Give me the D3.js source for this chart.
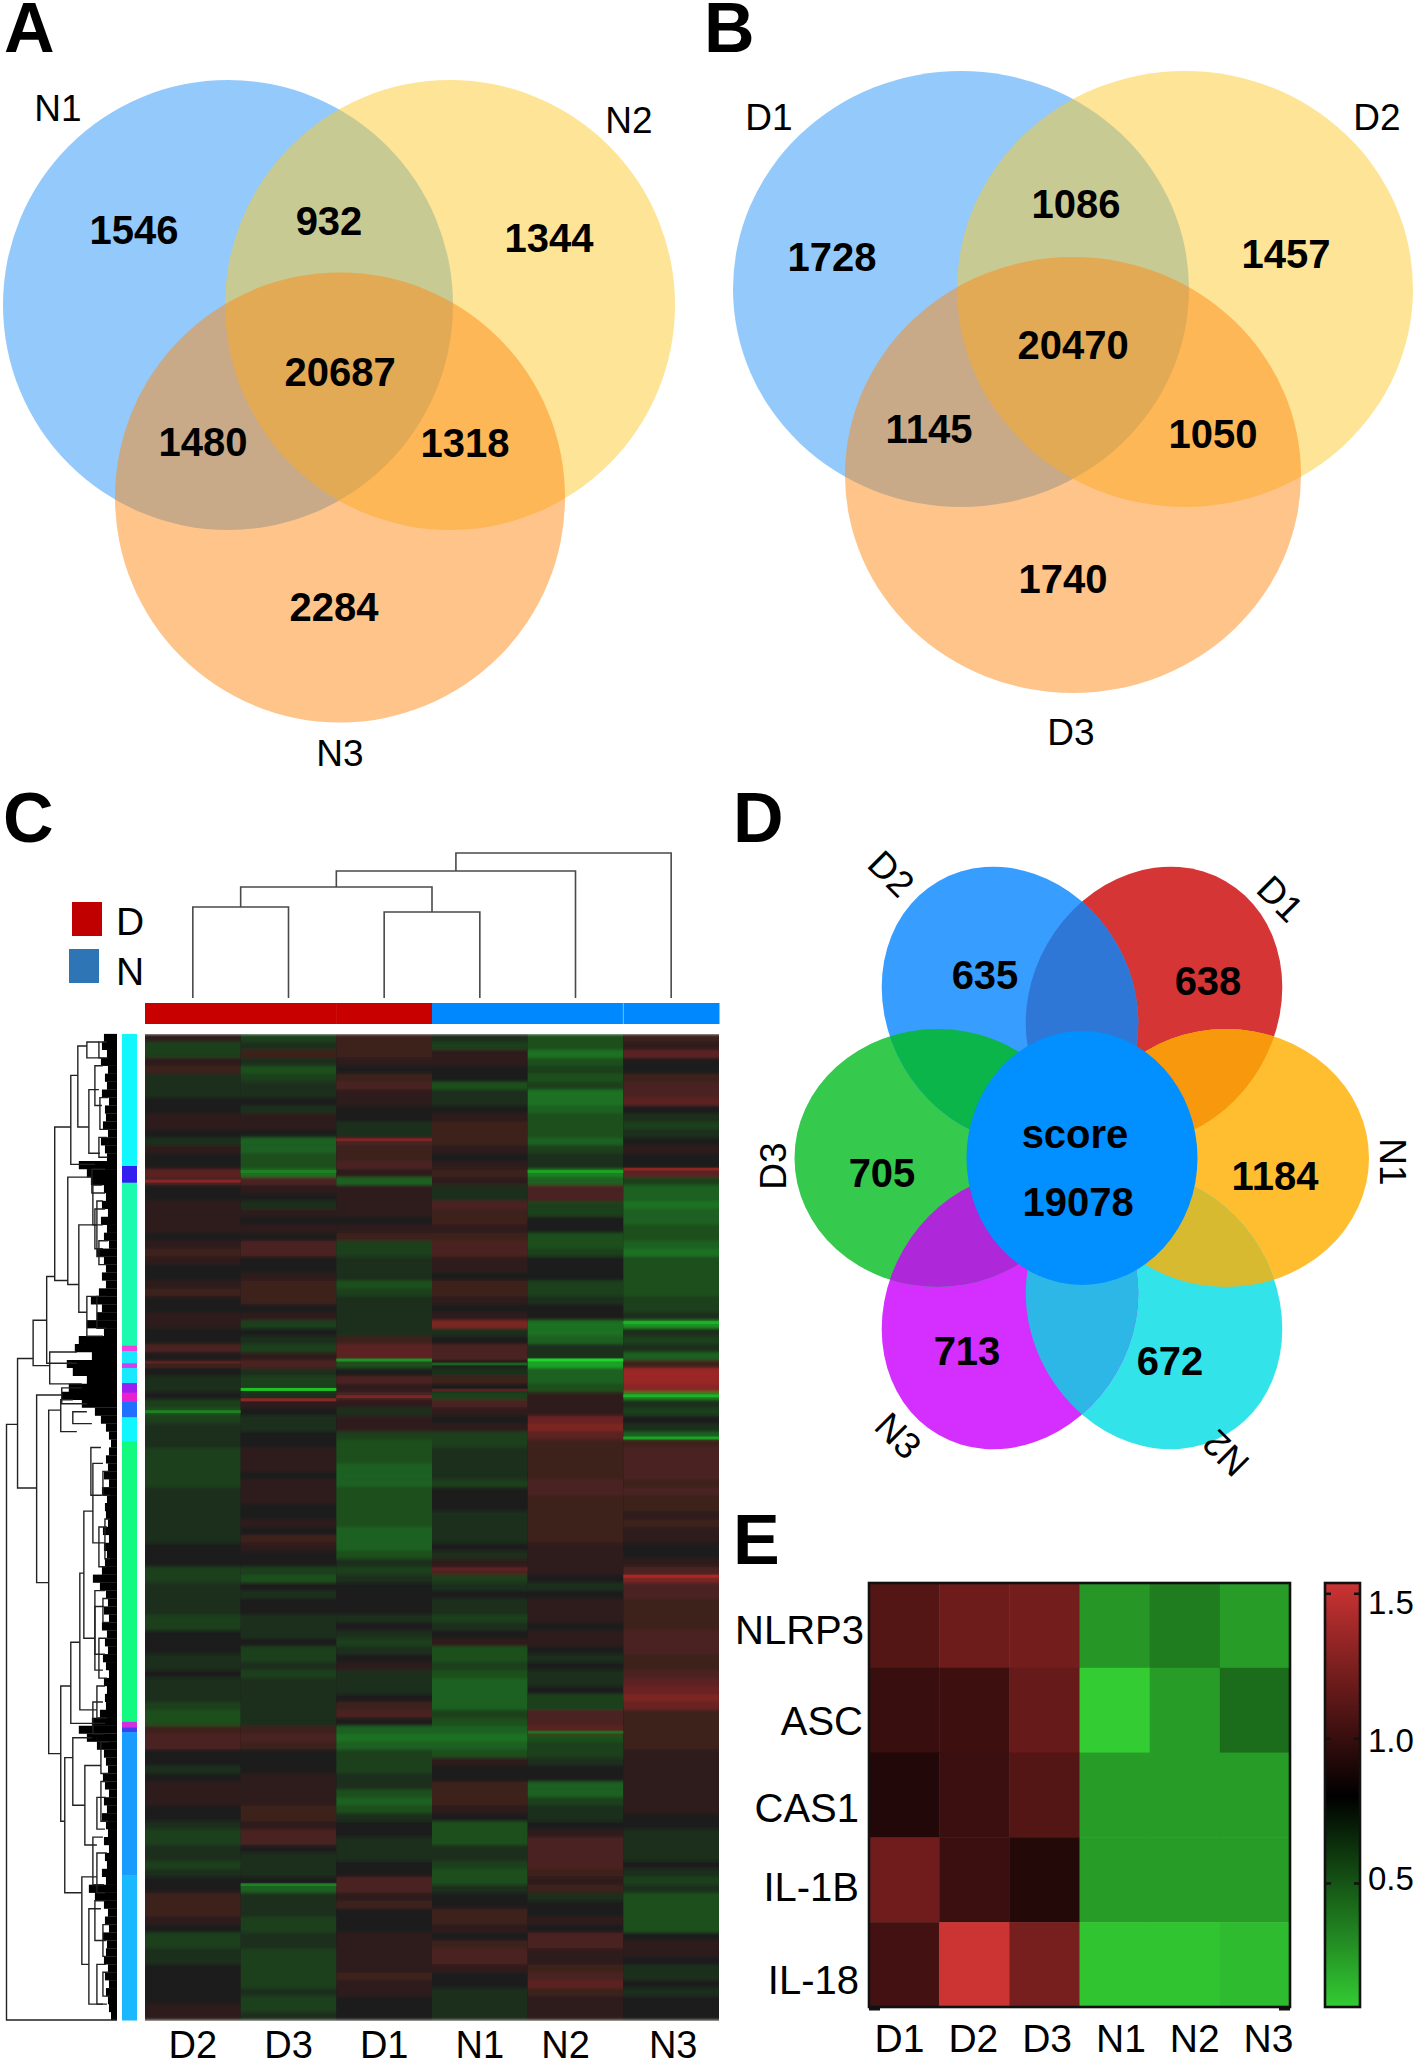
<!DOCTYPE html>
<html><head><meta charset="utf-8">
<script src="https://cdn.jsdelivr.net/npm/d3@7/dist/d3.min.js"></script>
<style>html,body{margin:0;padding:0;background:#fff}svg{display:block}text{font-family:"Liberation Sans",Arial,sans-serif;fill:#000}</style>
</head><body><div id="c"></div>
<script>
// ---------- Panels A, B, D: counts ----------
const vennANames = ["N1","N2","N3"];
const vennACounts = [1546,932,1344,20687,1480,1318,2284];
const vennBNames = ["D1","D2","D3"];
const vennBCounts = [1728,1086,1457,20470,1145,1050,1740];
const flowerNames = ["D1","N1","N2","N3","D3","D2"];
const flowerCounts = [638,1184,672,713,705,635];
const flowerCore = ["score",19078];

// ---------- Panel C: heat map values (rows x samples) ----------
const heatSamples = ["D2","D3","D1","N1","N2","N3"];
const heatGroups = ["D","D","D","N","N","N"];
const heatD2 = [1,-2,-2,1,2,-1,-1,-1,0,0, 1,1,0,-1,1,0,0,4,3,0, 0,1,1,1,1,0,1,2,1,0, 0,1,2,0,0,1,1,0,0,3, 0,2,0,-1,-1,0,-2,-3,-2,-1, -1,-1,-2,-2,-2,-2,-2,-1,-1,-1, -1,-1,-1,-1,0,0,0,-2,-2,-1, -1,-1,-1,-2,-2,0,0,0,-1,-1, 0,-1,-1,-1,-2,-3,-3,2,3,3, 0,0,-1,0,1,1,1,0,0,-1, -2,-2,-1,-1,-2,-1,0,0,2,2, 2,1,0,-2,-2,-1,-1,0,0,0, 0,0,1,1];
const heatD3 = [-2,-1,2,-1,-3,-2,-1,-1,0,-1, 1,1,0,-4,-4,-3,-3,-5,3,1, 0,-1,1,0,1,0,3,3,0,0, 1,2,2,2,0,1,-2,0,-1,-2, 1,3,-1,-2,-2,-1,1,0,-1,-1, 0,0,1,1,1,0,1,1,1,0, 0,1,0,2,1,0,0,-2,-3,0, -1,0,0,-1,-1,-1,0,-2,-2,-1, -2,-1,-1,-1,-1,-1,-1,2,3,2, 0,0,0,1,1,1,1,2,2,1, 3,3,0,-1,-1,-1,0,-4,-1,-1, -1,-2,-2,-1,-1,-2,-2,-2,-2,-2, -1,-2,-2,-1];
const heatD1 = [2,2,2,1,0,2,3,1,1,0, 0,-1,-1,3,2,2,3,1,-4,1, 1,1,1,0,1,2,-2,-2,-1,-1, -1,-3,-2,-1,-1,-1,-1,-1,2,4, 4,-3,0,3,1,3,1,-1,1,1, -2,-3,-3,-3,-4,-4,-4,-3,-3,-3, -3,-3,-4,-4,-4,-3,-1,-2,-1,0, 0,0,0,-1,0,-1,-2,-1,0,1, -1,-1,-1,0,2,3,0,-4,-5,-4, -2,-2,-2,-1,-1,-3,-4,-3,-1,0, 0,-1,-1,-1,0,0,3,3,1,2, 0,0,0,1,1,1,1,1,2,1, 1,0,0,0];
const heatN1 = [-1,-2,1,1,0,0,-3,-1,-1,0, 1,2,2,2,1,0,1,2,1,-1, -1,3,2,2,1,2,3,3,1,1, 0,2,2,1,0,1,6,-1,0,3, 3,0,-1,2,0,-2,3,1,0,1, -2,-2,-1,-1,-1,-1,-2,0,0,0, -1,-1,-1,-1,0,-1,1,3,-2,-1, 0,-1,-1,-2,-1,0,1,-3,-3,-2, -3,-4,-4,-4,-4,-2,-3,-4,-5,-4, -3,1,0,0,2,2,2,1,0,-3, -3,-3,-1,-1,-2,-3,-3,-1,0,0, 2,2,1,0,2,3,3,1,0,0, -1,-1,-1,-1];
const heatN2 = [-3,-3,-5,-3,-2,-3,-2,-5,-5,-4, -3,-3,-3,-4,-2,-1,-1,-6,-4,3, 3,-2,-2,0,0,-3,-3,-2,0,0, 0,-2,-2,-1,0,0,-5,-5,-4,-1, -1,-8,-4,-4,-3,1,1,1,5,6, 4,2,2,2,2,2,3,3,2,2, 2,2,2,2,1,1,1,1,0,-1, 0,1,1,1,0,1,1,0,-1,0, -1,-1,0,-2,-2,3,3,4,-3,-2, -2,-1,0,0,-4,-4,-2,-1,-1,0, 1,3,3,3,3,2,1,2,-1,0, 0,1,0,3,3,1,1,2,3,4, 2,1,1,1];
const heatN3 = [2,1,4,0,0,2,3,3,4,0, -1,-2,-1,0,1,0,0,4,-2,-4, -4,-5,-4,-4,-3,-3,-4,-5,-3,-3, -3,-3,-3,-2,-2,-1,-7,-1,-2,-1, -4,2,8,8,7,-6,-1,-2,0,-1, -4,2,3,3,3,3,2,3,2,2, 1,2,1,1,0,0,1,3,6,3, 3,2,2,2,2,3,3,3,2,2, 3,4,5,6,5,2,2,2,2,2, 1,1,1,1,1,1,1,1,0,0, -1,-1,-1,-1,0,-1,-2,-1,-3,-3, -3,-3,-3,0,1,1,0,-1,-1,0, -1,0,0,0];
const heatColumns = [heatD2,heatD3,heatD1,heatN1,heatN2,heatN3];
// thin stripes: sample index, row position, value
const heatStripes = [[0,18.5,7],[0,41.3,4],[0,47.5,-6],[1,17.3,-6],[1,44.7,-10],[1,46,7],[1,107,-6],[2,13.3,6],[2,41,-7],[2,45.6,6],[3,41.5,-4],[3,44.8,4],[3,67.3,4],[4,17.3,-8],[4,41,-11],[4,87.8,-5],[5,17,7],[5,36.3,-9],[5,45.5,-9],[5,50.8,-8],[5,68.2,9]];
// sample tree: merge heights
const sampleTree = {h:145,children:[{h:127,children:[{h:111,children:[{h:91,children:[{name:"D2"},{name:"D3"}]},{h:86,children:[{name:"D1"},{name:"N1"}]}]},{name:"N2"}]},{name:"N3"}]};
const sampleLabelNudge = [0,0,0,0,-10,2];
// module colour strip: end row and colour
const moduleEnds = [16.6,18.7,39.2,39.9,41.4,42,43.9,45.1,46.2,48.2,51.2,86.5,87.2,87.8,105.8,124];
const moduleColors = ["#12f7fe","#3320f0","#1bfbb0","#f43fe0","#19e9ff","#d040f0","#19e9ff","#9a1ff0","#e820d0","#2070ff","#12f7ff","#12fb80","#d030e0","#4040f0","#1a9cff","#1ab8ff"];
// gene tree brackets: height, first child row, its height, second child row, its height
const geneBrackets = [[110,49.1,99,124,0],[99,40.8,83.5,57.1,80],[83.5,36,70,41.7,67],[70,30.5,62,41.4,40],[62,11.7,46,31,49],[46,5.2,39,16.4,22],[39,1.5,30,11.7,28],[30,1,18,3,16],[28,7,18,15,17],[49,18,25,31.5,38],[38,24,20,35,30],[25,17,12,20,12],[20,21,14,28,12],[30,33,18,38,14],[67,40,40,44,35],[80,45.4,55,69,68],[55,44.5,35,46.5,30],[68,47.3,56,90.5,56],[56,46,44,50,40],[44,47.5,30,49,25],[56,82,46,99,52],[46,76.5,37,86.7,12],[37,67.8,33,85,20],[33,60,24,76,22],[24,54,14,64,12],[22,70,12,80,14],[20,82,12,86,10],[52,91,44,108,35],[44,88.5,25,97,32],[32,92,16,102,20],[35,106,20,117,28],[28,110,16,122,14],[20,103,10,108,12],[16,89,8,93,8],[18,1,10,3,9],[17,8,9,12,8],[14,55,8,58,7],[12,61,7,66,7],[14,71,7,74,6],[16,94,8,99,9],[14,112,7,116,8],[14,118,8,121,7],[22,4,14,9,15],[18,13,10,15.5,9],[22,22,12,27,14],[18,26,9,29,10],[24,19,15,24,14],[20,33,10,37,11],[26,52,16,58,15],[18,62,10,67,11],[22,72,13,78,12],[18,76,9,81,10],[24,84,14,88,13],[20,96,11,100,12],[24,101,14,107,13],[22,109,12,114,11],[20,117,11,122,10]];
const geneLeafReach = [13,15,10,16,9,12,10,15,8,12, 11,14,9,16,12,10,38,30,26,13, 11,15,9,16,10,13,8,20,13,11, 15,11,18,26,15,20,30,13,38,42, 25,50,44,30,48,55,35,22,16,11, 8,6,8,11,9,13,8,15,10,12, 11,9,14,8,13,10,12,15,24,17, 11,9,13,8,15,10,12,9,14,11, 8,13,10,12,11,17,25,38,30,20, 13,11,9,14,12,8,13,10,15,11, 9,13,8,12,10,15,11,28,22,13, 9,12,8,14,10,11,13,9,12,8, 11,9,8,6];
const legendNames = ["D","N"];

// ---------- Panel E ----------
const geneNames = ["NLRP3","ASC","CAS1","IL-1B","IL-18"];
const geneNameNudge = [-3,3,5,-1,7];
const geneNameShift = [0,-1,-5,-5,-5];
const geneSamples = ["D1","D2","D3","N1","N2","N3"];
const rowNLRP3 = [1.09,1.18,1.20,0.26,0.35,0.235];
const rowASC = [0.99,1.01,1.155,0.07,0.235,0.405];
const rowCAS1 = [0.91,1.00,1.09,0.235,0.235,0.235];
const rowIL1B = [1.19,1.00,0.92,0.235,0.235,0.235];
const rowIL18 = [1.03,1.52,1.215,0.10,0.10,0.13];
const geneRows = [rowNLRP3,rowASC,rowCAS1,rowIL1B,rowIL18];
const barTicks = [0.5,1.0,1.5];

for (const c of heatColumns) if (c.length!==124) throw new Error("bad column "+c.length);
if (geneLeafReach.length!==124) throw new Error("bad reach");

const svg = d3.select("#c").append("svg").attr("width",1416).attr("height",2064);
const defs = svg.append("defs");

function txt(g,x,y,s,size,bold,rot,anchor){
  const t=g.append("text").text(s).attr("font-size",size).attr("font-weight",bold?700:400)
    .attr("text-anchor",anchor||"middle").attr("dominant-baseline","central");
  t.attr("transform",`translate(${x},${y})`+(rot?` rotate(${rot})`:""));
  return t;
}
// panel letters
[["A",4,52],["B",704,52],["C",3,842],["D",733,842],["E",733,1564]].forEach(d=>{
  svg.append("text").text(d[0]).attr("x",d[1]).attr("y",d[2]).attr("font-size",70).attr("font-weight",700);
});

// ---------- Venns ----------
const vennColors=["#2896f7","#fdc92d","#fd8915"];
function venn(names,counts,circles,numPos,labPos){
  const g=svg.append("g");
  g.selectAll("ellipse").data(names).join("ellipse")
    .attr("cx",(d,i)=>circles[i][0]).attr("cy",(d,i)=>circles[i][1])
    .attr("rx",(d,i)=>circles[i][2]).attr("ry",(d,i)=>circles[i][3])
    .attr("fill",(d,i)=>vennColors[i]).attr("fill-opacity",.5);
  counts.forEach((c,i)=>txt(g,numPos[i][0],numPos[i][1],c,40,true));
  names.forEach((n,i)=>txt(g,labPos[i][0],labPos[i][1],n,37,false));
}
venn(vennANames,vennACounts,[[228,305,225,225],[450,305,225,225],[340,497.5,225,225]],
 [[134,230],[329,221],[549,238],[340,372],[203,442],[465,443],[334,607]],[[58,108],[629,120],[340,753]]);
venn(vennBNames,vennBCounts,[[961,289,228,218],[1185,289,228,218],[1073,475,228,218]],
 [[832,257],[1076,204],[1286,254],[1073,345],[929,429],[1213,434],[1063,579]],[[769,117],[1377,117],[1071,732]]);

// ---------- Flower ----------
{
  const cx=1082,cy=1158;
  const petals=[
    {c:"#d53535",dx:72,dy:-153,rx:143,ry:123,rot:-60,num:[1208,981],lab:[1280,899,45]},
    {c:"#ffbe30",dx:144,dy:0,rx:143,ry:129,rot:0,num:[1275,1176],lab:[1392,1162,90]},
    {c:"#33e3ea",dx:72,dy:153,rx:143,ry:123,rot:60,num:[1170,1361],lab:[1226,1453,225]},
    {c:"#d52fff",dx:-72,dy:153,rx:143,ry:123,rot:-60,num:[967,1351],lab:[898,1436,45]},
    {c:"#35c94d",dx:-144.5,dy:0,rx:143,ry:129,rot:0,num:[882,1173],lab:[773,1166,-90]},
    {c:"#379dff",dx:-72,dy:-153,rx:143,ry:123,rot:60,num:[985,975],lab:[891,874,45]}
  ];
  const lens=["#f8980c","#d8ba30","#2db7e6","#ae28da","#0bb54a","#2e77d6"];
  const g=svg.append("g");
  const shape=(sel,p)=>sel.attr("rx",p.rx).attr("ry",p.ry)
    .attr("transform",`translate(${cx+p.dx},${cy+p.dy}) rotate(${p.rot})`);
  petals.forEach((p,i)=>{
    defs.append("clipPath").attr("id","pc"+i).append("ellipse").call(shape,p);
    g.append("ellipse").call(shape,p).attr("fill",p.c);
  });
  petals.forEach((p,i)=>{
    const j=(i+1)%6;
    g.append("g").attr("clip-path",`url(#pc${j})`).append("ellipse").call(shape,p).attr("fill",lens[i]);
  });
  g.append("ellipse").attr("cx",cx).attr("cy",cy).attr("rx",115.5).attr("ry",127).attr("fill","#028fff");
  flowerNames.forEach((n,i)=>{
    const p=petals[i];
    txt(g,p.num[0],p.num[1],flowerCounts[i],40,true);
    txt(g,p.lab[0],p.lab[1],n,37,false,p.lab[2]);
  });
  txt(g,1075,1134,flowerCore[0],40,true);
  txt(g,1078,1202,flowerCore[1],40,true);
}

// ---------- Panel C ----------
{
  const rows=d3.range(124);
  const x=d3.scaleBand().domain(heatSamples).range([145,719]);
  const y=d3.scaleBand().domain(rows).range([1034,2020]);
  const yPos=d3.scaleLinear().domain([0,124]).range([1034,2020]);
  const color=d3.scaleLinear().domain([-11,0,11]).range(["#1ed428","#1e1e1c","#c82a2a"]);
  const f=defs.append("filter").attr("id","vb").attr("x",0).attr("y",0).attr("width",1).attr("height",1);
  f.append("feGaussianBlur").attr("stdDeviation","0 1.6").attr("edgeMode","duplicate");
  const hg=svg.append("g").attr("filter","url(#vb)");
  hg.append("rect").attr("x",145).attr("y",1034).attr("width",574).attr("height",986).attr("fill","#1e1e1c");
  heatColumns.forEach((col,i)=>{
    hg.append("g").selectAll("rect").data(col).join("rect")
      .attr("x",x(heatSamples[i])).attr("width",x.bandwidth())
      .attr("y",(d,r)=>y(r)).attr("height",y.bandwidth()+.5).attr("fill",d=>color(d));
  });
  const sg=svg.append("g");
  sg.selectAll("rect").data(heatStripes).join("rect")
    .attr("x",d=>x(heatSamples[d[0]])).attr("width",x.bandwidth())
    .attr("y",d=>yPos(d[1])-1.5).attr("height",3).attr("fill",d=>color(d[2]));
  // column group bar
  const gc={D:"#c80000",N:"#0088ff"};
  svg.append("g").selectAll("rect").data(heatSamples).join("rect")
    .attr("x",d=>x(d)).attr("width",x.bandwidth()+.5).attr("y",1003).attr("height",21)
    .attr("fill",(d,i)=>gc[heatGroups[i]]);
  svg.append("line").attr("x1",x("N3")).attr("x2",x("N3")).attr("y1",1003).attr("y2",1024).attr("stroke","#6cc0ff").attr("stroke-width",1);
  // sample tree
  const root=d3.hierarchy(sampleTree);
  const yh=d3.scaleLinear().domain([0,145]).range([998,853]);
  root.eachAfter(n=>{ n.px = n.children? (n.children[0].px+n.children[n.children.length-1].px)/2 : x(n.data.name)+x.bandwidth()/2; n.hv=n.data.h||0; });
  const tg=svg.append("g").attr("fill","none").attr("stroke","#4a4a4a").attr("stroke-width",1.6);
  root.descendants().filter(n=>n.children).forEach(n=>{
    const [a,b]=n.children;
    tg.append("path").attr("d",`M${a.px},${yh(a.hv)}V${yh(n.hv)}H${b.px}V${yh(b.hv)}`);
  });
  // legend
  const lg=svg.append("g");
  [[72,902,"#c00000"],[69,949,"#2e75b6"]].forEach((d,i)=>{
    lg.append("rect").attr("x",d[0]).attr("y",d[1]).attr("width",30).attr("height",34).attr("fill",d[2]);
    txt(lg,130,d[1]+19+i*3,legendNames[i],39,false);
  });
  // module strip
  svg.append("g").selectAll("rect").data(moduleEnds).join("rect")
    .attr("x",122).attr("width",15)
    .attr("y",(d,i)=>yPos(i?moduleEnds[i-1]:0))
    .attr("height",(d,i)=>yPos(d)-yPos(i?moduleEnds[i-1]:0)+.5)
    .attr("fill",(d,i)=>moduleColors[i]);
  // gene tree
  const xh=d3.scaleLinear().domain([0,110]).range([117,6.5]);
  const rowMid=r=>yPos(r+.5);
  const dg=svg.append("g");
  dg.append("g").attr("stroke","#000").attr("stroke-width",8.2).selectAll("line").data(geneLeafReach).join("line")
    .attr("x1",xh(0)).attr("x2",d=>xh(d)).attr("y1",(d,r)=>rowMid(r)).attr("y2",(d,r)=>rowMid(r));
  dg.append("g").attr("fill","none").attr("stroke","#222").attr("stroke-width",1.4).selectAll("path").data(geneBrackets).join("path")
    .attr("d",d=>`M${xh(d[2])},${yPos(d[1])}H${xh(d[0])}V${yPos(d[3])}H${xh(d[4])}`);
  // sample labels
  const ax=d3.axisBottom(x).tickSize(0);
  const a=svg.append("g").attr("transform","translate(0,2030)").call(ax);
  a.select(".domain").remove();
  a.selectAll("text").attr("font-size",38).attr("font-family","Liberation Sans")
    .attr("dy",0).attr("y",15).attr("dominant-baseline","central")
    .attr("dx",(d,i)=>sampleLabelNudge[i]).attr("fill","#000");
}

// ---------- Panel E ----------
{
  const x=d3.scaleBand().domain(geneSamples).range([869,1290]);
  const y=d3.scaleBand().domain(geneNames).range([1583,2007]);
  const barY=d3.scaleLinear().domain([0.07,1.52]).range([2005,1585]);
  const color=d3.scaleLinear().domain([0.07,0.79,1.52]).range(["#33cc33","#000000","#cc3333"]);
  const g=svg.append("g");
  geneRows.forEach((row,ri)=>{
    g.append("g").selectAll("rect").data(row).join("rect")
      .attr("x",(d,i)=>x(geneSamples[i])).attr("y",y(geneNames[ri]))
      .attr("width",x.bandwidth()+.5).attr("height",y.bandwidth()+.5)
      .attr("fill",d=>color(d));
  });
  g.append("rect").attr("x",869).attr("y",1583).attr("width",421).attr("height",424)
    .attr("fill","none").attr("stroke","#111").attr("stroke-width",2.6);
  // gene labels
  const la=svg.append("g").attr("transform","translate(864,0)").call(d3.axisLeft(y).tickSize(0).tickPadding(0));
  la.select(".domain").remove();
  la.selectAll("text").attr("font-size",40).attr("font-family","Liberation Sans").attr("fill","#000")
    .attr("dy",null).attr("dominant-baseline","central").attr("y",(d,i)=>8+geneNameNudge[i])
    .attr("dx",(d,i)=>geneNameShift[i]);
  // sample labels
  const xl=d3.scalePoint().domain(geneSamples).range([899,1268]);
  const lb=svg.append("g").attr("transform","translate(0,2038)").call(d3.axisBottom(xl).tickSize(0).tickPadding(0));
  lb.select(".domain").remove();
  lb.selectAll("text").attr("font-size",39).attr("font-family","Liberation Sans").attr("y",0).attr("dy",0)
    .attr("dominant-baseline","central").attr("fill","#000");
  // bottom end ticks
  [869,1290].forEach(v=>g.append("line").attr("x1",v).attr("x2",v+(v<1000?11:-11)).attr("y1",2009).attr("y2",2009).attr("stroke","#111").attr("stroke-width",3));
  // colour bar
  const grad=defs.append("linearGradient").attr("id","cb").attr("x1",0).attr("x2",0).attr("y1",1).attr("y2",0);
  color.domain().forEach(v=>grad.append("stop").attr("offset",(v-0.07)/(1.52-0.07)).attr("stop-color",color(v)));
  const bg=svg.append("g");
  bg.append("rect").attr("x",1325).attr("y",1583).attr("width",35).attr("height",424)
    .attr("fill","url(#cb)").attr("stroke","#111").attr("stroke-width",2.6);
  bg.selectAll(".t").data(barTicks).join(en=>{
    const s=en.append("g").attr("class","t").attr("transform",d=>`translate(0,${barY(d)+3})`);
    s.append("line").attr("x1",1325).attr("x2",1331).attr("stroke","#111").attr("stroke-width",2.5);
    s.append("line").attr("x1",1354).attr("x2",1360).attr("stroke","#111").attr("stroke-width",2.5);
    s.append("text").text(d=>d.toFixed(1)).attr("x",1368).attr("y",d=>d===1.5?9:d===1?2:-5)
      .attr("font-size",33).attr("dominant-baseline","central");
    return s;
  });
}
</script></body></html>
